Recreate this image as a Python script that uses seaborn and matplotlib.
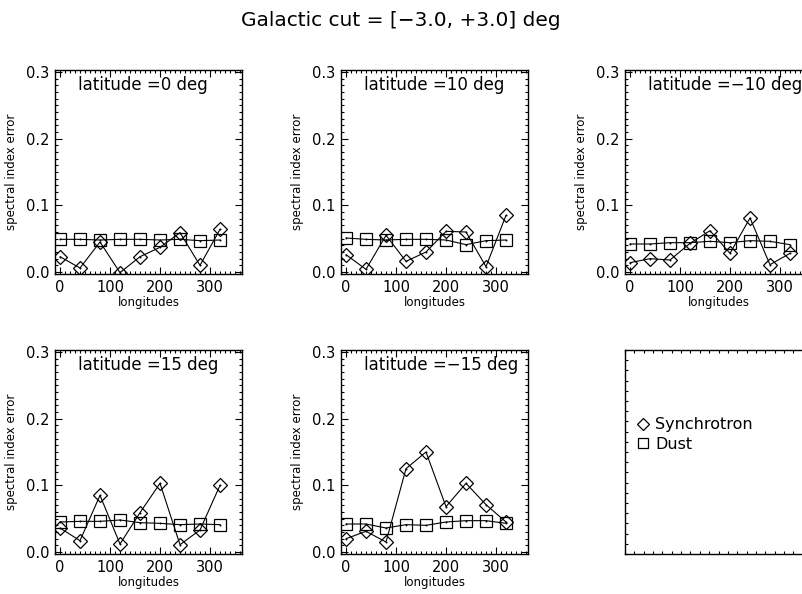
import numpy as np
import pandas as pd
import matplotlib
matplotlib.use("Agg")
import matplotlib.pyplot as plt
from matplotlib.lines import Line2D
from matplotlib.ticker import MultipleLocator, FormatStrFormatter
import seaborn as sns

longitudes = [0, 40, 80, 120, 160, 200, 240, 280, 320]
latitude_labels = ["latitude =0 deg", "latitude =10 deg", "latitude =\u221210 deg",
                   "latitude =15 deg", "latitude =\u221215 deg"]

sync_lat0 = [0.023, 0.006, 0.045, -0.001, 0.023, 0.037, 0.059, 0.010, 0.064]
dust_lat0 = [0.049, 0.049, 0.048, 0.049, 0.049, 0.048, 0.049, 0.047, 0.048]

sync_lat10 = [0.026, 0.004, 0.055, 0.016, 0.030, 0.061, 0.060, 0.008, 0.085]
dust_lat10 = [0.051, 0.049, 0.048, 0.049, 0.049, 0.048, 0.041, 0.047, 0.048]

sync_latm10 = [0.014, 0.020, 0.018, 0.043, 0.062, 0.028, 0.081, 0.011, 0.028]
dust_latm10 = [0.042, 0.042, 0.044, 0.044, 0.046, 0.044, 0.047, 0.046, 0.041]

sync_lat15 = [0.036, 0.017, 0.085, 0.012, 0.059, 0.103, 0.011, 0.033, 0.100]
dust_lat15 = [0.045, 0.046, 0.046, 0.048, 0.044, 0.043, 0.041, 0.042, 0.041]

sync_latm15 = [0.020, 0.031, 0.015, 0.125, 0.150, 0.068, 0.103, 0.071, 0.045]
dust_latm15 = [0.042, 0.042, 0.036, 0.041, 0.040, 0.045, 0.047, 0.047, 0.043]

sync_series = [sync_lat0, sync_lat10, sync_latm10, sync_lat15, sync_latm15]
dust_series = [dust_lat0, dust_lat10, dust_latm10, dust_lat15, dust_latm15]

title = "Galactic cut = [\u22123.0, +3.0] deg"

sns.set_style("white")
plt.rcParams["font.family"] = ["DejaVu Sans"]
plt.rcParams["text.color"] = "black"
plt.rcParams["axes.labelcolor"] = "black"
plt.rcParams["xtick.color"] = "black"
plt.rcParams["ytick.color"] = "black"

fig = plt.figure(figsize=(8.02, 5.94), dpi=100)
W, H = 802.0, 594.0
col_left = [55, 341, 625]
row_top = [70, 350]
aw, ah = 187, 204


def make_ax(c, r):
    return fig.add_axes([col_left[c] / W, 1 - (row_top[r] + ah) / H, aw / W, ah / H])


def style_ax(ax, labels=True):
    for s in ax.spines.values():
        s.set_color("black")
        s.set_linewidth(1.0)
        s.set_visible(True)
    ax.tick_params(which="both", direction="in", top=True, right=True,
                   bottom=True, left=True, color="black", width=0.8,
                   labelcolor="black")
    ax.tick_params(which="major", length=5, labelsize=10.5, pad=4)
    ax.tick_params(which="minor", length=2.5)
    if not labels:
        ax.tick_params(which="both", labelbottom=False, labelleft=False, length=2.5)


positions = [(0, 0), (1, 0), (2, 0), (0, 1), (1, 1)]
for i, (c, r) in enumerate(positions):
    ax = make_ax(c, r)
    df = pd.DataFrame({"lon": longitudes, "sync": sync_series[i], "dust": dust_series[i]})
    sns.lineplot(data=df, x="lon", y="dust", ax=ax, color="black", lw=0.8,
                 marker="s", markersize=9, markerfacecolor="none",
                 markeredgecolor="black", markeredgewidth=0.9)
    sns.lineplot(data=df, x="lon", y="sync", ax=ax, color="black", lw=0.8,
                 marker="D", markersize=7.5, markerfacecolor="none",
                 markeredgecolor="black", markeredgewidth=0.9)
    sns.scatterplot(data=df, x="lon", y="sync", ax=ax, color="black", s=2, linewidth=0)
    sns.scatterplot(data=df, x="lon", y="dust", ax=ax, color="black", s=2, linewidth=0)
    ax.set_xlim(-10, 364)
    ax.set_ylim(-0.003, 0.303)
    ax.xaxis.set_major_locator(MultipleLocator(100))
    ax.xaxis.set_minor_locator(MultipleLocator(10))
    ax.yaxis.set_major_locator(MultipleLocator(0.1))
    ax.yaxis.set_minor_locator(MultipleLocator(0.01))
    ax.yaxis.set_major_formatter(FormatStrFormatter("%.1f"))
    style_ax(ax)
    ax.set_xlabel("longitudes", fontsize=8.5, labelpad=1, color="black")
    ax.set_ylabel("spectral index error", fontsize=8.5, labelpad=6, color="black")
    ax.text(0.123, 0.925, latitude_labels[i], transform=ax.transAxes,
            fontsize=12, ha="left", va="center", color="black")

# legend panel
axl = make_ax(2, 1)
axl.set_xlim(0, 1)
axl.set_ylim(0, 1)
axl.xaxis.set_major_locator(MultipleLocator(0.5))
axl.xaxis.set_minor_locator(MultipleLocator(0.05))
axl.yaxis.set_major_locator(MultipleLocator(0.5))
axl.yaxis.set_minor_locator(MultipleLocator(0.05))
style_ax(axl, labels=False)
handles = [
    Line2D([], [], ls="none", marker="D", markersize=6, markerfacecolor="none",
           markeredgecolor="black", markeredgewidth=0.9),
    Line2D([], [], ls="none", marker="s", markersize=7.5, markerfacecolor="none",
           markeredgecolor="black", markeredgewidth=0.9),
]
leg = axl.legend(handles, ["Synchrotron", "Dust"], loc="upper left",
                 bbox_to_anchor=(0.0, 0.725), frameon=False, fontsize=11.5,
                 handlelength=0.8, handletextpad=0.4, labelspacing=0.3,
                 borderaxespad=0.3)
for t in leg.get_texts():
    t.set_color("black")

fig.text(0.5, 1 - 20 / H, title, ha="center", va="center", fontsize=14.5, color="black")

fig.savefig("out.png", dpi=100)
